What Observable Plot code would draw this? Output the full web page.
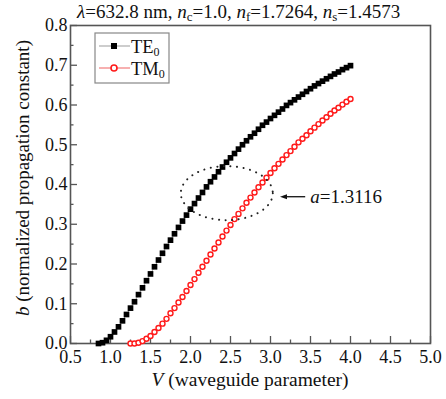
<!DOCTYPE html>
<html><head><meta charset="utf-8">
<script src="https://cdn.jsdelivr.net/npm/d3@7"></script>
<script src="https://cdn.jsdelivr.net/npm/@observablehq/plot@0.6"></script>
<style>body{margin:0;background:#fff} svg{display:block} svg text{font-family:"Liberation Serif","Times New Roman","DejaVu Serif",serif}</style>
</head><body><div id="chart"></div>
<script>
// ---- data ----
const teV = [0.85,0.90,0.95,1.00,1.05,1.10,1.15,1.20,1.25,1.30,1.35,1.40,1.45,1.50,1.55,1.60,1.65,1.70,1.75,1.80,1.85,1.90,1.95,2.00,2.05,2.10,2.15,2.20,2.25,2.30,2.35,2.40,2.45,2.50,2.55,2.60,2.65,2.70,2.75,2.80,2.85,2.90,2.95,3.00,3.05,3.10,3.15,3.20,3.25,3.30,3.35,3.40,3.45,3.50,3.55,3.60,3.65,3.70,3.75,3.80,3.85,3.90,3.95,4.00];
const teB = [0.000,0.002,0.008,0.017,0.029,0.042,0.057,0.073,0.089,0.105,0.123,0.140,0.158,0.175,0.193,0.210,0.227,0.244,0.260,0.276,0.292,0.308,0.323,0.338,0.352,0.366,0.380,0.394,0.407,0.419,0.432,0.444,0.456,0.467,0.478,0.489,0.500,0.510,0.520,0.529,0.539,0.549,0.557,0.566,0.574,0.582,0.590,0.599,0.606,0.613,0.620,0.627,0.634,0.641,0.648,0.654,0.660,0.666,0.672,0.678,0.683,0.689,0.694,0.699];
const tmV = [1.25,1.30,1.35,1.40,1.45,1.50,1.55,1.60,1.65,1.70,1.75,1.80,1.85,1.90,1.95,2.00,2.05,2.10,2.15,2.20,2.25,2.30,2.35,2.40,2.45,2.50,2.55,2.60,2.65,2.70,2.75,2.80,2.85,2.90,2.95,3.00,3.05,3.10,3.15,3.20,3.25,3.30,3.35,3.40,3.45,3.50,3.55,3.60,3.65,3.70,3.75,3.80,3.85,3.90,3.95,4.00];
const tmB = [0.000,0.000,0.002,0.006,0.012,0.019,0.029,0.039,0.050,0.062,0.076,0.089,0.103,0.117,0.132,0.147,0.162,0.178,0.193,0.208,0.224,0.239,0.254,0.269,0.284,0.298,0.313,0.326,0.340,0.354,0.367,0.380,0.393,0.405,0.417,0.429,0.441,0.452,0.463,0.474,0.484,0.495,0.506,0.515,0.524,0.534,0.543,0.552,0.561,0.569,0.578,0.586,0.593,0.601,0.608,0.615];
const xMajor = [0.5,1.0,1.5,2.0,2.5,3.0,3.5,4.0,4.5,5.0];
const xMinor = [0.75,1.25,1.75,2.25,2.75,3.25,3.75,4.25,4.75];
const yMajor = [0,0.1,0.2,0.3,0.4,0.5,0.6,0.7,0.8];
const yMinor = [0.05,0.15,0.25,0.35,0.45,0.55,0.65,0.75];
const seriesNames = ["TE", "TM"];
const seriesSub = "0";
const titleParts = [["λ","=632.8 nm, "],["n","c","=1.0, "],["n","f","=1.7264, "],["n","s","=1.4573"]];
const ellipseCenter = {V: 2.46, b: 0.377};
const arrowFrom = {V: 3.44, b: 0.368};
const arrowTo = {V: 3.125, b: 0.368};
const annotText = ["a", "=1.3116"];

const te = teV.map((v, i) => ({V: v, b: teB[i]}));
const tm = tmV.map((v, i) => ({V: v, b: tmB[i]}));
const fmt = d3.format(".1f");
const serif = "Liberation Serif, Times New Roman, DejaVu Serif, serif";

const chart = Plot.plot({
  width: 446, height: 399,
  marginLeft: 70, marginRight: 16, marginTop: 25, marginBottom: 56,
  style: {fontFamily: serif, fontSize: "18px", background: "#fff", color: "#000"},
  x: {domain: [0.5, 5]},
  y: {domain: [0, 0.8]},
  marks: [
    Plot.frame({stroke: "#555", strokeWidth: 1.6}),
    Plot.axisX({ticks: xMajor, tickSize: -7, tickFormat: () => "", label: null, stroke: "#555", strokeWidth: 1.3}),
    Plot.axisX({ticks: xMinor, tickSize: -3.5, tickFormat: () => "", label: null, stroke: "#555", strokeWidth: 1.3}),
    Plot.axisX({ticks: xMajor, tickSize: 0, tickPadding: 7, tickFormat: fmt, label: null, fill: "#111"}),
    Plot.axisY({ticks: yMajor, tickSize: -7, tickFormat: () => "", label: null, stroke: "#555", strokeWidth: 1.3}),
    Plot.axisY({ticks: yMinor, tickSize: -3.5, tickFormat: () => "", label: null, stroke: "#555", strokeWidth: 1.3}),
    Plot.axisY({ticks: yMajor, tickSize: 0, tickPadding: 3, tickFormat: fmt, label: null, fill: "#111"}),
    Plot.line(te, {x: "V", y: "b", stroke: "#aaa", strokeWidth: 1}),
    Plot.dot(te, {x: "V", y: "b", symbol: "square", r: 3.2, fill: "#000", stroke: "none"}),
    Plot.line(tm, {x: "V", y: "b", stroke: "#f5a5a5", strokeWidth: 1}),
    Plot.dot(tm, {x: "V", y: "b", symbol: "circle", r: 2.5, fill: "#fff", stroke: "#ff1a1a", strokeWidth: 1.4})
  ]
});
document.getElementById("chart").appendChild(chart);

const sx = chart.scale("x"), sy = chart.scale("y");
const svg = d3.select(chart);
const g = svg.append("g").attr("font-family", serif).attr("fill", "#111").attr("text-anchor", "start");

// title
const t = g.append("text").attr("x", 77).attr("y", 18).attr("font-size", 19).attr("text-anchor", "start");
titleParts.forEach(p => {
  if (p.length === 2) { t.append("tspan").text(p[0]).attr("font-style", "italic"); t.append("tspan").text(p[1]); }
  else {
    t.append("tspan").text(p[0]).attr("font-style", "italic");
    t.append("tspan").text(p[1]).attr("font-size", 13).attr("dy", 3);
    t.append("tspan").text(p[2]).attr("dy", -3);
  }
});

// axis labels
const xl = g.append("text").attr("x", (sx.apply(0.5) + sx.apply(5)) / 2).attr("y", 386).attr("text-anchor", "middle").attr("font-size", 19.5);
xl.append("tspan").text("V").attr("font-style", "italic");
xl.append("tspan").text(" (waveguide parameter)");
const yl = g.append("text").attr("transform", `translate(29,${(sy.apply(0) + sy.apply(0.8)) / 2 - 6}) rotate(-90)`).attr("text-anchor", "middle").attr("font-size", 19);
yl.append("tspan").text("b").attr("font-style", "italic");
yl.append("tspan").text(" (normalized propagation constant)");

// legend
const lg = svg.append("g");
lg.append("rect").attr("x", 95).attr("y", 33).attr("width", 74).attr("height", 50).attr("fill", "#fff").attr("stroke", "#888").attr("stroke-width", 1.2);
[[46, 52.5, "#c8c8c8"], [68, 75, "#f7a8a8"]].forEach(([yy, yb, c], i) => {
  lg.append("line").attr("x1", 99).attr("x2", 130).attr("y1", yy).attr("y2", yy).attr("stroke", c).attr("stroke-width", 1.8);
  if (i === 0) lg.append("rect").attr("x", 111).attr("y", yy - 3).attr("width", 6).attr("height", 6).attr("fill", "#000");
  else lg.append("circle").attr("cx", 114).attr("cy", yy).attr("r", 3).attr("fill", "#fff").attr("stroke", "#ff1a1a").attr("stroke-width", 1.6);
  const tx = lg.append("text").attr("x", 131).attr("y", yb).attr("font-family", serif).attr("font-size", 18.5).attr("fill", "#111").attr("text-anchor", "start");
  tx.append("tspan").text(seriesNames[i]);
  tx.append("tspan").text(seriesSub).attr("font-size", 12).attr("dy", 3);
});

// annotation
svg.append("ellipse").attr("cx", sx.apply(ellipseCenter.V)).attr("cy", sy.apply(ellipseCenter.b))
  .attr("rx", 46).attr("ry", 27).attr("fill", "none").attr("stroke", "#222").attr("stroke-width", 2)
  .attr("stroke-dasharray", "0.1,6.5").attr("stroke-linecap", "round");
const ax1 = sx.apply(arrowFrom.V), ax2 = sx.apply(arrowTo.V), ay = sy.apply(arrowFrom.b);
svg.append("line").attr("x1", ax1).attr("x2", ax2 + 4).attr("y1", ay).attr("y2", ay).attr("stroke", "#111").attr("stroke-width", 1.3);
svg.append("path").attr("d", `M${ax2},${ay} l7,-2.5 l0,5 z`).attr("fill", "#111");
const at = g.append("text").attr("x", ax1 + 5).attr("y", ay + 6.5).attr("font-size", 19).attr("text-anchor", "start");
at.append("tspan").text(annotText[0]).attr("font-style", "italic");
at.append("tspan").text(annotText[1]);
</script>
</body></html>
